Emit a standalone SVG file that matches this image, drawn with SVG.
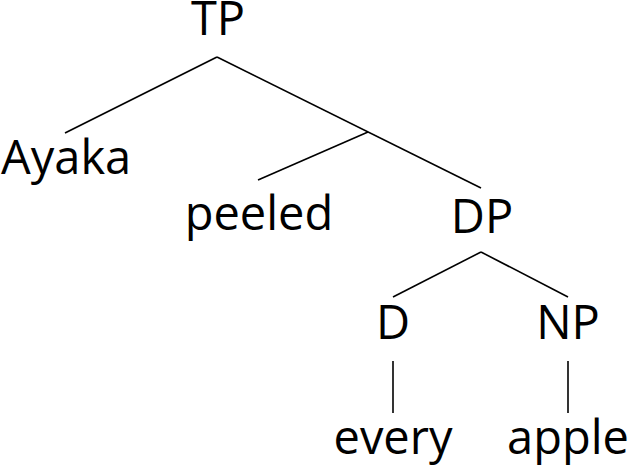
<svg xmlns="http://www.w3.org/2000/svg" width="630" height="467" viewBox="0 0 630 467">
<style>
.lbl{font-family:"Open Sans","Noto Sans","DejaVu Sans",sans-serif;font-size:47px;fill:#000;text-anchor:middle}
.edge{stroke:#000;stroke-width:1.6;fill:none;stroke-linecap:butt}
</style>
<rect width="630" height="467" fill="#fff"/>
<g id="connectors">
<line class="edge" x1="217" y1="57" x2="65" y2="133"/>
<line class="edge" x1="217" y1="57" x2="481" y2="188"/>
<line class="edge" x1="368" y1="132" x2="258" y2="180"/>
<line class="edge" x1="481" y1="252" x2="393" y2="297"/>
<line class="edge" x1="481" y1="252" x2="568" y2="297"/>
<line class="edge" x1="393" y1="361" x2="393" y2="413"/>
<line class="edge" x1="568" y1="361" x2="568" y2="413"/>
</g>
<g id="TP"><text class="lbl" x="218" y="35">TP</text></g>
<g id="Ayaka"><text class="lbl" x="1" y="174" style="text-anchor:start">Ayaka</text></g>
<g id="peeled"><text class="lbl" x="259" y="230">peeled</text></g>
<g id="DP"><text class="lbl" x="482" y="233">DP</text></g>
<g id="D"><text class="lbl" x="393" y="339">D</text></g>
<g id="NP"><text class="lbl" x="568" y="339">NP</text></g>
<g id="every"><text class="lbl" x="393" y="454">every</text></g>
<g id="apple"><text class="lbl" x="568" y="454">apple</text></g>
</svg>
